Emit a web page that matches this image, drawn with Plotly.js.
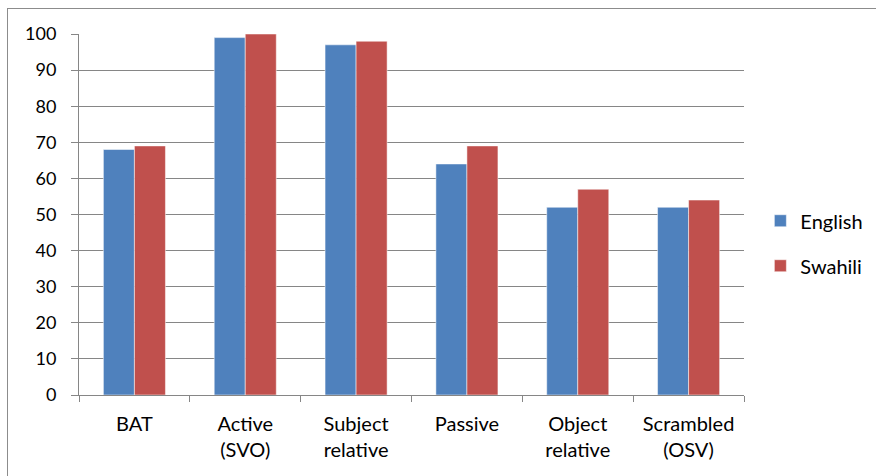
<!DOCTYPE html>
<html>
<head>
<meta charset="utf-8">
<script src="https://cdn.plot.ly/plotly-3.0.1.min.js"></script>
<style>
  html, body { margin: 0; padding: 0; background: #fff; }
  #frame { position: absolute; left: 7px; top: 8px; width: 900px; height: 500px; border: 1px solid #8c8c8c; box-sizing: border-box; pointer-events: none; z-index: 5; }
  #chart { position: absolute; left: 0; top: 0; width: 876px; height: 476px; }
</style>
</head>
<body>
<div id="chart"></div>
<div id="frame"></div>
<script>
const categories = ["BAT", "Active<br>(SVO)", "Subject<br>relative", "Passive", "Object<br>relative", "Scrambled<br>(OSV)"];
const english = [68, 99, 97, 64, 52, 52];
const swahili = [69, 100, 98, 69, 57, 54];
const yTicks = [0, 10, 20, 30, 40, 50, 60, 70, 80, 90, 100];

const fontFam = "Lato, 'Open Sans', sans-serif";

const traces = [
  { type: "bar", name: "English", x: categories, y: english,
    marker: { color: "#4F81BD", line: { color: "rgba(255,255,255,0.5)", width: 1 } },
    legendgroup: "a" },
  { type: "bar", name: "Swahili", x: categories, y: swahili,
    marker: { color: "#C0504D", line: { color: "rgba(255,255,255,0.5)", width: 1 } },
    legendgroup: "b" }
];

const layout = {
  width: 876, height: 476,
  margin: { l: 79, r: 132, t: 34, b: 81, pad: 0, autoexpand: false },
  paper_bgcolor: "rgba(0,0,0,0)",
  plot_bgcolor: "#fff",
  barmode: "group",
  bargap: 0.44,
  bargroupgap: 0,
  font: { family: fontFam, color: "#000", size: 18 },
  xaxis: {
    type: "category",
    showline: true, linecolor: "#868686", linewidth: 1,
    ticks: "outside", tickson: "boundaries", ticklen: 6, tickcolor: "#868686",
    showgrid: false,
    tickfont: { family: fontFam, size: 20, color: "#000" },
    ticklabelstandoff: 11,
    automargin: false,
    fixedrange: true
  },
  yaxis: {
    range: [0, 100],
    tickvals: yTicks,
    showline: true, linecolor: "#868686", linewidth: 1,
    ticks: "outside", ticklen: 7, tickcolor: "#868686",
    showgrid: true, gridcolor: "#868686", gridwidth: 1,
    zeroline: false,
    tickfont: { family: fontFam, size: 18, color: "#000" },
    ticklabelstandoff: 11,
    automargin: false,
    fixedrange: true
  },
  showlegend: true,
  legend: {
    xref: "container", yref: "container",
    x: 0.868, xanchor: "left",
    y: 0.489, yanchor: "middle",
    traceorder: "grouped", tracegroupgap: 16,
    font: { family: fontFam, size: 20, color: "#000" },
    bgcolor: "rgba(0,0,0,0)",
    itemwidth: 30
  }
};

Plotly.newPlot("chart", traces, layout, { displayModeBar: false, staticPlot: true });
</script>
</body>
</html>
